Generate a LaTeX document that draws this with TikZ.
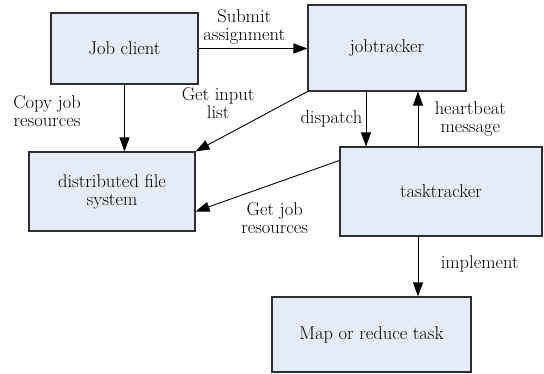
\documentclass[tikz,border=0pt]{standalone}
\definecolor{boxfill}{HTML}{E6ECF7}
\definecolor{boxline}{HTML}{2E2E2E}
\usetikzlibrary{arrows.meta, positioning, calc}
\tikzset{
  blk/.style = {rectangle, draw = boxline, fill = boxfill, line width = 1.1pt, inner sep = 0pt, align = center, font = \fontsize{18.5}{18}\selectfont},
  lbl/.style = {align = center, font = \fontsize{18.5}{18}\selectfont},
  arr/.style = {-{Triangle[length=14pt, width=10pt]}, line width = 0.9pt}
}
\begin{document}
\begin{tikzpicture}[x = 1pt, y = -1pt]
\useasboundingbox (0,0) rectangle (544,374);
\node[blk, minimum width = 147pt, minimum height = 71pt] (client) at (124.5, 48.5) {Job client};
\node[blk, minimum width = 158pt, minimum height = 86pt] (jobtracker) at (387, 48) {jobtracker};
\node[blk, minimum width = 166pt, minimum height = 79pt] (dfs) at (112, 191.5) {distributed file\\system};
\node[blk, minimum width = 202pt, minimum height = 89pt] (tasktracker) at (441, 191.5) {tasktracker};
\node[blk, minimum width = 199pt, minimum height = 75pt] (maptask) at (371.5, 334.5) {Map or reduce task};
\draw[arr] (client.east) -- node[lbl, above, pos = 0.42] {Submit\\assignment} (client.east -| jobtracker.west);
\draw[arr] (client.south) -- node[lbl, pos = 0.4, left = 40pt] {Copy job\\resources} (client.south |- dfs.north);
\draw[arr] (jobtracker.south west) -- node[lbl, pos = 0.19, left = 28pt] {Get input\\list} (dfs.north east);
\draw[arr] ([xshift = -21pt]jobtracker.south) -- node[lbl, left] {dispatch} ([xshift = -21pt]jobtracker.south |- tasktracker.north);
\draw[arr] ([xshift = 31pt]jobtracker.south |- tasktracker.north) -- node[lbl, right = 13pt] {heartbeat\\message} ([xshift = 31pt]jobtracker.south);
\draw[arr] ([yshift = -14pt]tasktracker.north west) -- node[lbl, pos = 0.45, below = 15pt] {Get job\\resources} ([yshift = -20pt]dfs.east);
\draw[arr] ([xshift = 31pt]jobtracker.south |- tasktracker.south) -- node[lbl, pos = 0.45, right = 19pt] {implement} ([xshift = 31pt]jobtracker.south |- maptask.north);
\end{tikzpicture}
\end{document}
